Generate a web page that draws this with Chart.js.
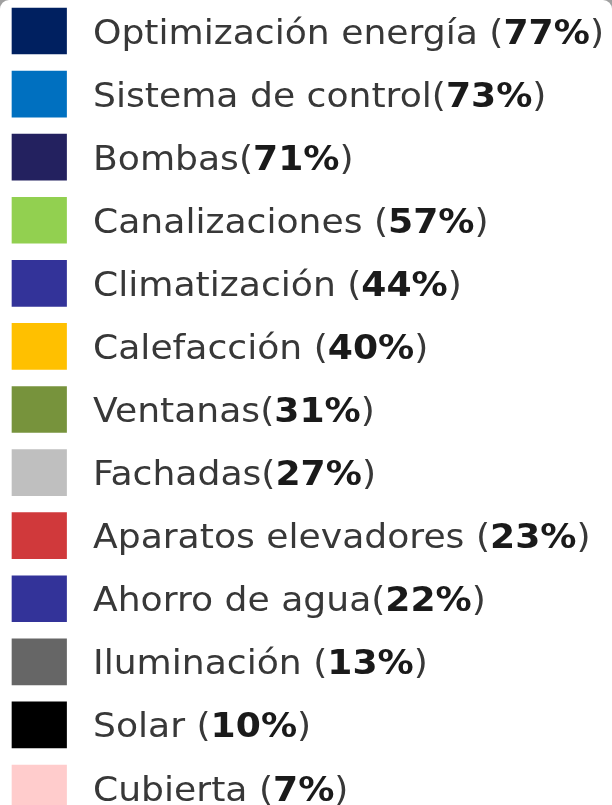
<!DOCTYPE html>
<html>
<head>
<meta charset="utf-8">
<script src="https://cdn.jsdelivr.net/npm/chart.js@4"></script>
<style>
  html, body { margin: 0; padding: 0; background: #a0a0a0; }
  #wrap { width: 612px; height: 805px; background: #fff; border-radius: 9px 9px 0 0; overflow: hidden; }
</style>
</head>
<body>
<div id="wrap"><canvas id="legendChart" width="612" height="805"></canvas></div>
<script>
// Legend entries (label text, share, swatch colour)
const categories = [
  "Optimización energía ", "Sistema de control", "Bombas", "Canalizaciones ",
  "Climatización ", "Calefacción ", "Ventanas", "Fachadas",
  "Aparatos elevadores ", "Ahorro de agua", "Iluminación ", "Solar ", "Cubierta "
];
const shares = [77, 73, 71, 57, 44, 40, 31, 27, 23, 22, 13, 10, 7];
const swatchColors = [
  "#002060", "#0070C0", "#23215F", "#92D050", "#333399", "#FFC000", "#77933C",
  "#BFBFBF", "#D0393B", "#333399", "#666666", "#000000", "#FFCCCC"
];

const FONT = "'DejaVu Sans', sans-serif";
const SIZE = 33;

// draws "label (NN%)" with the number part in bold, next to each swatch
const labelPlugin = {
  id: "labelPlugin",
  afterDatasetsDraw(chart) {
    const ctx = chart.ctx;
    const yScale = chart.scales.y;
    const normal = SIZE + "px " + FONT;
    const bold = "bold " + SIZE + "px " + FONT;

    function widthOf(i) {
      ctx.font = normal;
      let w = ctx.measureText(categories[i] + "(").width + ctx.measureText(")").width;
      ctx.font = bold;
      return w + ctx.measureText(shares[i] + "%").width;
    }

    ctx.save();
    // stretch a little to get the wide look of the original font
    const sx = 511 / widthOf(0);
    ctx.textBaseline = "middle";
    categories.forEach((name, i) => {
      const y = yScale.getPixelForValue(i) + 4;
      let x = 93 / sx;
      ctx.save();
      ctx.scale(sx, 1);
      ctx.font = normal;
      ctx.fillStyle = "#383838";
      ctx.fillText(name + "(", x, y);
      x += ctx.measureText(name + "(").width;
      ctx.font = bold;
      ctx.fillStyle = "#1a1a1a";
      ctx.fillText(shares[i] + "%", x, y);
      x += ctx.measureText(shares[i] + "%").width;
      ctx.font = normal;
      ctx.fillStyle = "#383838";
      ctx.fillText(")", x, y);
      ctx.restore();
    });
    ctx.restore();
  }
};

new Chart(document.getElementById("legendChart"), {
  type: "bar",
  data: {
    labels: categories,
    datasets: [{
      data: categories.map(() => [0, 1]),
      backgroundColor: swatchColors,
      borderWidth: 0,
      barThickness: 46,
      clip: false
    }]
  },
  options: {
    indexAxis: "y",
    responsive: false,
    animation: false,
    layout: { padding: { left: 12, right: 0, top: 31, bottom: 17 } },
    plugins: { legend: { display: false }, tooltip: { enabled: false } },
    scales: {
      x: { type: "linear", min: 0, max: 11, display: false },
      y: { type: "category", offset: false, display: false }
    }
  },
  plugins: [labelPlugin]
});
</script>
</body>
</html>
